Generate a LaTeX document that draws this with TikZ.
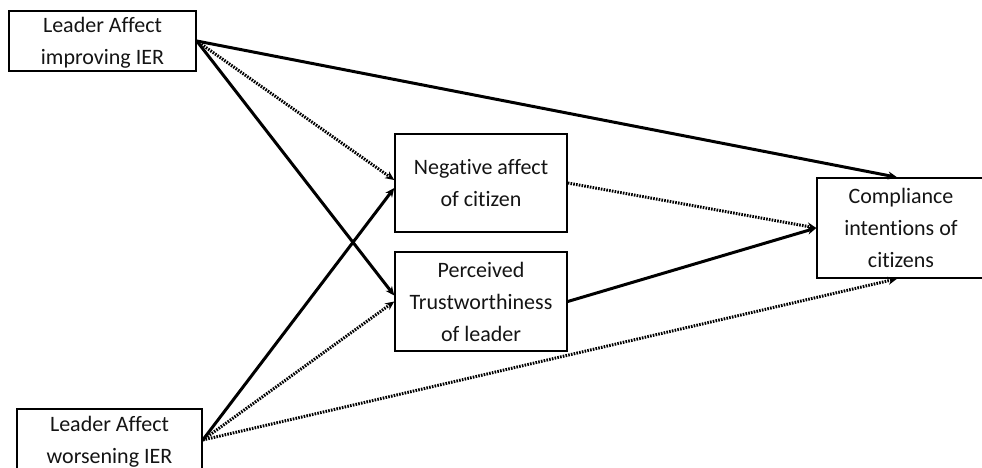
\documentclass[tikz,border=0pt]{standalone}
\usepackage{fontspec}
\setmainfont{Carlito}[Ligatures=NoCommon]
\usetikzlibrary{arrows.meta}

\begin{document}
\begin{tikzpicture}[x=1pt,y=-1pt,>={Stealth[length=9pt,width=8pt]},
        box/.style={draw,line width=1.5pt,align=center,inner sep=0pt,
            text=black!92,font=\fontsize{22}{32}\selectfont},
        solidarr/.style={->,line width=3pt},
        dotarr/.style={->,line width=3pt,dash pattern=on 1.6pt off 1.2pt}]
        % picture frame
        \useasboundingbox (0,0) rectangle (982,468);
        \clip (0,0) rectangle (982,468);

        % the five boxes
        \node[box,minimum width=187,minimum height=60,text depth=-3pt] (A) at (102.5,41) {Leader Affect\\improving IER};
        \node[box,minimum width=185,minimum height=62,text depth=-3pt] (B) at (109.5,440) {Leader Affect\\worsening IER};
        \node[box,minimum width=172,minimum height=98] (N) at (481,183) {Negative affect\\of citizen};
        \node[box,minimum width=172,minimum height=99] (P) at (481,301.5) {Perceived\\Trustworthiness\\of leader};
        \node[box,minimum width=168,minimum height=100] (C) at (901,228) {Compliance\\intentions of\\citizens};

        %from improving IER
        \draw[solidarr] (A.east) -- ([xshift=-4pt]C.north);
        \draw[dotarr] (A.east) -- ([yshift=3pt]N.west);
        \draw[solidarr] (A.east) -- ([yshift=6pt]P.west);

        %from worsening IER
        \draw[solidarr] (B.east) -- ([yshift=-5pt]N.west);
        \draw[dotarr] (B.east) -- (P.west);
        \draw[dotarr] (B.east) -- ([xshift=-4pt]C.south);

        %mediators
        \draw[dotarr] (N.east) -- (C.west);
        \draw[solidarr] (P.east) -- (C.west);
    \end{tikzpicture}
\end{document}
